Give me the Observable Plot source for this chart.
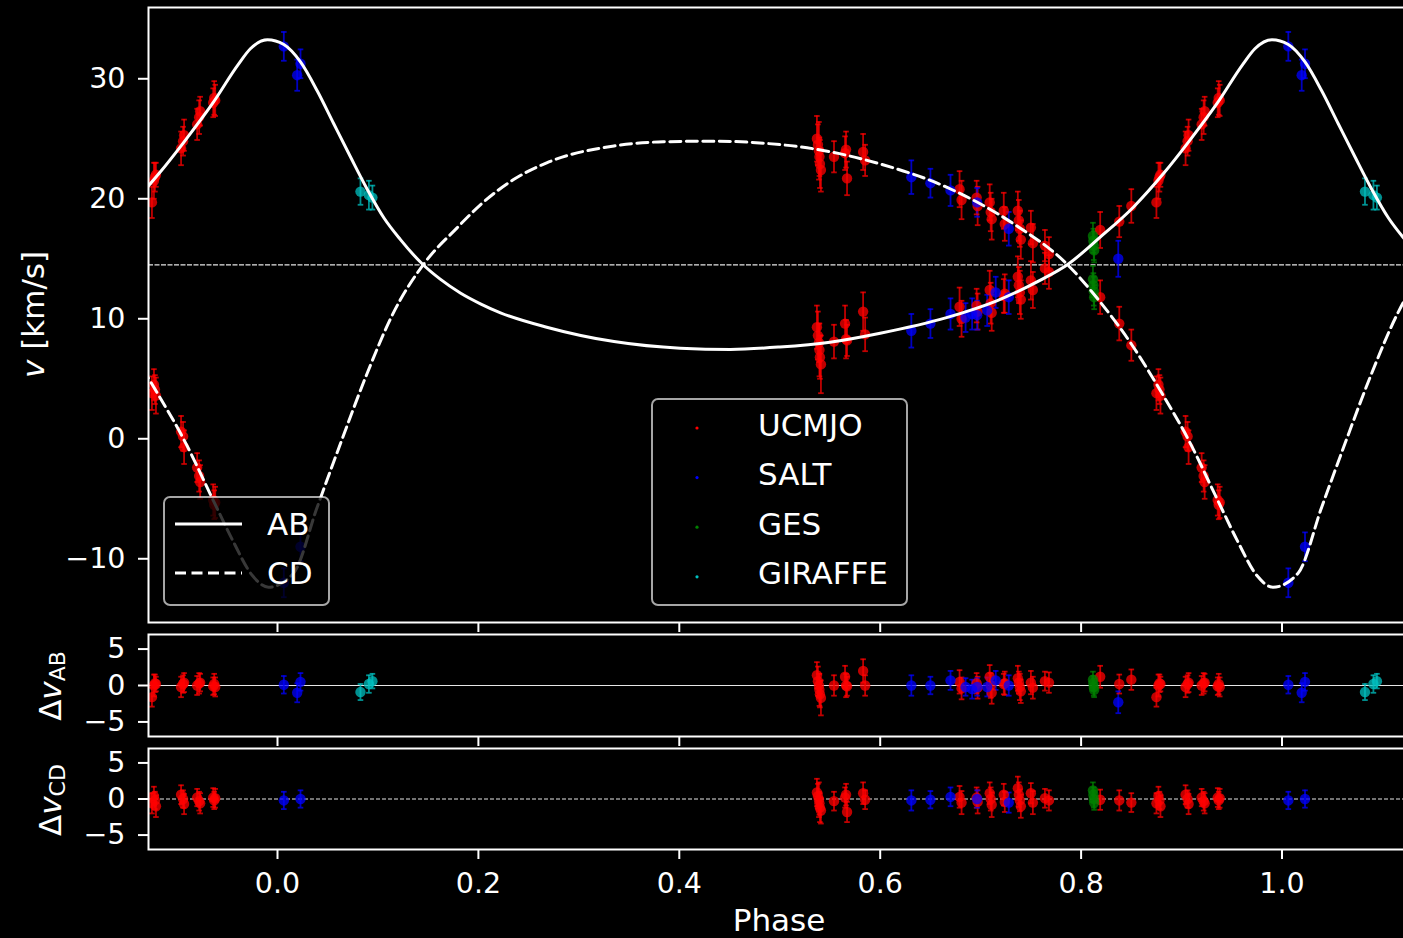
<!DOCTYPE html>
<html>
<head>
<meta charset="utf-8">
<script src="https://cdn.jsdelivr.net/npm/d3@7"></script>
<script src="https://cdn.jsdelivr.net/npm/@observablehq/plot@0.6"></script>
<style>
  html, body { margin: 0; padding: 0; background: #000; overflow: hidden; }
  #wrap { position: relative; width: 1403px; height: 938px; overflow: hidden; background: #000; }
  #wrap > svg { position: absolute; left: 0; max-width: none !important; }
</style>
</head>
<body>
<div id="wrap"></div>
<script>
// ---------------- data ----------------
const instruments = ["UCMJO", "SALT", "GES", "GIRAFFE"];
const instColors = ["#ff0000", "#0000ff", "#008000", "#00bfbf"];
const xTicks = [0, 0.2, 0.4, 0.6, 0.8, 1.0];
const vTicks = [-10, 0, 10, 20, 30];
const resTicks = [-5, 0, 5];
const systemicV = 14.5;
const curveNames = ["AB", "CD"];

// model curves (phase in [0,1))
const abCurvePhase = [0.0063, 0.0229, 0.0395, 0.056, 0.0726, 0.0893, 0.106, 0.1224, 0.145, 0.162, 0.182, 0.202, 0.222, 0.268, 0.335, 0.401, 0.451, 0.500, 0.550, 0.600, 0.666, 0.716, 0.759, 0.787, 0.819, 0.852, 0.882, 0.908, 0.935, 0.961, 0.973, 0.990];
const abCurveV     = [32.85, 31.4, 29.0, 26.25, 23.5, 20.8, 18.4, 16.6, 14.5, 13.3, 12.15, 11.25, 10.5, 9.3, 8.1, 7.55, 7.45, 7.65, 8.05, 8.8, 10.1, 11.5, 13.2, 14.55, 16.8, 19.3, 22.1, 24.85, 27.9, 31.2, 32.5, 33.25];
const cdCurvePhase = [0.016, 0.0395, 0.0627, 0.089, 0.116, 0.145, 0.179, 0.202, 0.235, 0.268, 0.335, 0.384, 0.434, 0.484, 0.534, 0.600, 0.666, 0.733, 0.786, 0.819, 0.850, 0.879, 0.907, 0.937, 0.955, 0.975, 0.991];
const cdCurveV     = [-11.2, -5.7, -0.4, 5.4, 10.6, 14.5, 17.6, 19.5, 21.6, 23.0, 24.4, 24.75, 24.8, 24.63, 24.16, 22.9, 20.97, 17.9, 14.55, 11.4, 7.9, 4.0, -0.1, -5.3, -8.4, -11.4, -12.37];

// UCMJO
const ucmjoPhase = [0.875,0.877,0.878,0.879, 0.904,0.906,0.907, 0.920,0.922,0.923, 0.936,0.937,0.938, 0.537,0.538,0.539,0.5395,0.540,0.541, 0.554, 0.565,0.566,0.567, 0.583,0.585, 0.679,0.681, 0.696,0.697, 0.709,0.710,0.711, 0.723,0.724, 0.737,0.738,0.739,0.740, 0.750,0.752, 0.764,0.768, 0.819, 0.838, 0.850];
const ucmjoAB    = [19.7,21.5,21.8,22.0, 24.2,24.8,25.3, 26.2,26.8,27.3, 28.0,28.4,28.2, 9.3,8.6,8.0,7.4,6.8,6.2, 8.1, 9.6,8.3,8.2, 10.6,8.7, 11.0,10.0, 11.1,10.6, 12.4,11.3,10.5, 11.9,12.1, 13.5,12.8,12.2,11.6, 13.2,12.4, 14.2,13.9, 17.4, 18.1, 19.4];
const ucmjoCD    = [3.8,4.5,4.1,3.6, 0.6,0.2,-0.7, -2.4,-3.1,-3.6, -5.1,-5.5,-5.3, 25.0,24.5,24.0,23.5,22.9,22.4, 23.5, 23.8,24.1,21.7, 23.9,23.2, 20.8,19.9, 20.1,19.4, 19.7,18.9,18.3, 19.0,17.9, 19.0,18.2,17.5,16.6, 17.6,16.3, 16.1,15.4, 11.8, 9.6, 7.8];
const ucmjoErrAB = [1.3,1.5,1.2,1.0, 1.4,1.2,1.3, 1.3,1.4,1.2, 1.2,1.4,1.3, 1.8,2.0,1.6,2.2,1.8,2.4, 1.4, 1.5,1.6,1.3, 1.6,1.4, 1.6,1.5, 1.4,1.5, 1.6,1.7,1.5, 1.4,1.6, 1.7,1.5,1.8,1.6, 1.6,1.5, 1.3,1.4, 1.5, 1.3, 1.4];
const ucmjoErrCD = [1.4,1.3,1.2,1.5, 1.3,1.2,1.4, 1.2,1.3,1.4, 1.3,1.2,1.3, 1.9,1.7,2.4,1.6,2.0,1.8, 1.3, 1.4,1.5,1.4, 1.5,1.3, 1.5,1.6, 1.4,1.6, 1.5,1.6,1.7, 1.5,1.4, 1.6,1.7,1.5,1.6, 1.4,1.6, 1.3,1.4, 1.4, 1.4, 1.3];
const ucmjoResAB = [-1.6,0.0,0.3,0.2, -0.2,0.2,0.4, 0.0,0.3,0.4, -0.1,0.2,-0.2, 1.4,0.6,0.0,-0.6,-1.2,-1.7, 0.0, 1.2,0.0,-0.1, 2.0,0.0, 0.5,-0.4, 0.3,-0.3, 1.2,0.0,-1.0, 0.2,0.3, 1.0,0.4,-0.2,-0.8, 0.4,-0.3, 0.6,0.4, 1.2, 0.2, 0.8];
const ucmjoResCD = [-0.6,0.4,-0.2,-1.0, 0.6,0.0,-0.7, 0.2,-0.3,-0.6, 0.2,-0.2,0.1, 0.9,0.4,-0.1,-0.6,-1.2,-1.6, -0.3, 0.2,0.6,-1.8, 0.8,-0.1, 0.3,-0.5, 0.2,-0.4, 0.8,0.0,-0.8, 0.6,-0.4, 1.5,0.6,-0.2,-1.0, 0.8,-0.5, 0.1,-0.2, -0.1, -0.2, -0.5];

// SALT
const saltPhase = [0.0063, 0.0196, 0.0229, 0.631, 0.650, 0.670, 0.685, 0.6915, 0.6965, 0.7065, 0.715, 0.728, 0.837];
const saltAB    = [32.7, 30.3, 31.25, 9.0, 9.6, 10.4, 10.1, 10.4, 10.3, 10.7, 12.2, 11.8, 15.0];
const saltCD    = [-12.0, null, -9.0, 21.8, 21.3, 20.7, null, null, 19.7, null, null, 17.5, null];
const saltErr   = [1.2, 1.3, 1.2, 1.4, 1.2, 1.3, 1.2, 1.3, 1.2, 1.3, 1.3, 1.4, 1.5];
const saltResAB = [0.1, -1.0, 0.5, 0.0, 0.0, 0.7, -0.2, -0.5, -0.2, -0.2, 0.7, 0.0, -2.3];
const saltResCD = [-0.2, null, 0.0, -0.2, -0.1, 0.3, null, null, 0.0, null, null, -0.5, null];

// GES
const gesPhase = [0.8118, 0.8122, 0.8126, 0.8130];
const gesAB    = [16.9, 16.5, 16.1, 15.7];
const gesCD    = [13.3, 12.8, 12.3, 11.8];
const gesErr   = [1.1, 1.0, 1.2, 1.0];
const gesResAB = [0.8, 0.3, -0.2, -0.6];
const gesResCD = [1.2, 0.6, 0.0, -0.5];

// GIRAFFE
const giraffePhase = [0.0826, 0.0910, 0.0945];
const giraffeAB    = [20.6, 20.3, 20.1];
const giraffeErr   = [1.1, 1.2, 1.0];
const giraffeResAB = [-0.9, 0.2, 0.6];

// ---------------- layout ----------------
const X0 = -0.12842, X1 = 1.12792;
const W = 1420, ML = 148, MR = 10;
const FONT = "DejaVu Sans";
const style = {background: "transparent", color: "white", fontFamily: FONT, fontSize: "28.5px", overflow: "visible", maxWidth: "none"};

function wrapCurve(ph, v) {
  const out = [];
  for (const k of [-1, 0, 1]) ph.forEach((p, i) => {
    const x = p + k;
    if (x > X0 - 0.12 && x < X1 + 0.12) out.push({x, v: v[i]});
  });
  return out.sort((a, b) => a.x - b.x);
}
const abCurve = wrapCurve(abCurvePhase, abCurveV);
const cdCurve = wrapCurve(cdCurvePhase, cdCurveV);

const obs = [];
function addInst(inst, ph, ab, cd, eAB, eCD, rAB, rCD) {
  ph.forEach((p, i) => {
    for (const k of [-1, 0, 1]) {
      const x = p + k;
      if (x < X0 || x > X1) continue;
      obs.push({inst, x, ab: ab[i], cd: cd ? cd[i] : null, eab: eAB[i], ecd: eCD ? eCD[i] : null,
                rab: rAB[i], rcd: rCD ? rCD[i] : null});
    }
  });
}
addInst("UCMJO", ucmjoPhase, ucmjoAB, ucmjoCD, ucmjoErrAB, ucmjoErrCD, ucmjoResAB, ucmjoResCD);
addInst("SALT", saltPhase, saltAB, saltCD, saltErr, saltErr, saltResAB, saltResCD);
addInst("GES", gesPhase, gesAB, gesCD, gesErr, gesErr, gesResAB, gesResCD);
addInst("GIRAFFE", giraffePhase, giraffeAB, null, giraffeErr, null, giraffeResAB, null);

const capSymbol = {draw(ctx, size) { const r = Math.sqrt(size / Math.PI); ctx.moveTo(-r, 0); ctx.lineTo(r, 0); }};
function pointMarks(key, errKey) {
  const d = obs.filter(o => o[key] != null);
  const lo = o => o[key] - o[errKey], hi = o => o[key] + o[errKey];
  const barOpt = {x: "x", stroke: "inst", strokeWidth: 1.8, strokeOpacity: 0.75, clip: true};
  return [
    Plot.ruleX(d, {...barOpt, y1: lo, y2: hi}),
    Plot.dot(d, {...barOpt, y: lo, symbol: capSymbol, r: 2.8, fill: "none"}),
    Plot.dot(d, {...barOpt, y: hi, symbol: capSymbol, r: 2.8, fill: "none"}),
    Plot.dot(d, {x: "x", y: key, r: 5.2, fill: "inst", fillOpacity: 0.75, stroke: "none", clip: true})
  ];
}
const colorScale = {domain: instruments, range: instColors};
const yAxis = ticks => Plot.axisY({ticks, tickSize: 10, tickPadding: 13, tickFormat: d3.format("d"), label: null, strokeWidth: 2});
const xAxisNoLabel = () => Plot.axisX({ticks: xTicks, tickSize: 10, tickFormat: () => "", label: null, strokeWidth: 2});
const frame = () => Plot.frame({stroke: "white", strokeWidth: 2});

const wrap = document.getElementById("wrap");

// top panel: radial velocities
const topPlot = Plot.plot({
  width: W, height: 633, marginLeft: ML, marginRight: MR, marginTop: 7, marginBottom: 11,
  x: {domain: [X0, X1]}, y: {domain: [-15.31, 35.94]}, color: colorScale, style,
  marks: [
    Plot.ruleY([systemicV], {stroke: "#e6e6e6", strokeWidth: 1.2, strokeDasharray: "5,1.5"}),
    ...pointMarks("ab", "eab"),
    ...pointMarks("cd", "ecd"),
    Plot.line(abCurve, {x: "x", y: "v", stroke: "white", strokeWidth: 3, curve: "monotone-x", clip: true}),
    Plot.line(cdCurve, {x: "x", y: "v", stroke: "white", strokeWidth: 3, strokeDasharray: "11,5.5", curve: "monotone-x", clip: true}),
    yAxis(vTicks), xAxisNoLabel(), frame()
  ]
});
topPlot.style.top = "0px";
wrap.appendChild(topPlot);

// middle panel: AB residuals
const midPlot = Plot.plot({
  width: W, height: 123, marginLeft: ML, marginRight: MR, marginTop: 10, marginBottom: 11,
  x: {domain: [X0, X1]}, y: {domain: [-7, 7]}, color: colorScale, style,
  marks: [
    Plot.ruleY([0], {stroke: "#e6e6e6", strokeWidth: 1.2}),
    ...pointMarks("rab", "eab"),
    yAxis(resTicks), xAxisNoLabel(), frame()
  ]
});
midPlot.style.top = "624px";
wrap.appendChild(midPlot);

// bottom panel: CD residuals
const botPlot = Plot.plot({
  width: W, height: 200, marginLeft: ML, marginRight: MR, marginTop: 10, marginBottom: 89,
  x: {domain: [X0, X1]}, y: {domain: [-7, 7]}, color: colorScale, style,
  marks: [
    Plot.ruleY([0], {stroke: "#e6e6e6", strokeWidth: 1.2, strokeDasharray: "4,2"}),
    ...pointMarks("rcd", "ecd"),
    yAxis(resTicks),
    Plot.axisX({ticks: xTicks, tickSize: 10, tickPadding: 13, tickFormat: d3.format(".1f"), label: null, strokeWidth: 2}),
    frame()
  ]
});
botPlot.style.top = "738px";
wrap.appendChild(botPlot);

// ---------------- overlay: labels and legends ----------------
const ov = d3.create("svg").attr("width", 1403).attr("height", 938)
  .style("position", "absolute").style("top", "0px").style("left", "0px")
  .attr("font-family", FONT).attr("fill", "white");

function rotLabel(x, y, sub) {
  const t = ov.append("text").attr("transform", `translate(${x},${y}) rotate(-90)`)
    .attr("text-anchor", "middle").attr("font-size", 31);
  if (sub == null) {
    t.append("tspan").attr("font-style", "italic").text("v");
    t.append("tspan").text(" [km/s]");
  } else {
    t.append("tspan").text("Δ");
    t.append("tspan").attr("font-style", "italic").text("v");
    t.append("tspan").attr("font-size", 22).attr("dy", "0.2em").text(sub);
  }
}
rotLabel(44, 314.5, null);
rotLabel(61, 686, curveNames[0]);
rotLabel(61, 800, curveNames[1]);
ov.append("text").attr("x", 779).attr("y", 931).attr("text-anchor", "middle").attr("font-size", 31).text("Phase");

// legend 1: model curves
ov.append("rect").attr("x", 164).attr("y", 497).attr("width", 165).attr("height", 108).attr("rx", 6)
  .attr("fill", "black").attr("fill-opacity", 0.78).attr("stroke", "white").attr("stroke-opacity", 0.65).attr("stroke-width", 2);
[[524, null], [573, "11,5.5"]].forEach(([y, dash], i) => {
  const l = ov.append("line").attr("x1", 175).attr("x2", 242).attr("y1", y).attr("y2", y)
    .attr("stroke", "white").attr("stroke-width", 3);
  if (dash) l.attr("stroke-dasharray", dash);
  ov.append("text").attr("x", 267).attr("y", y + 11).attr("font-size", 31).text(curveNames[i]);
});

// legend 2: instruments
ov.append("rect").attr("x", 652).attr("y", 399).attr("width", 255).attr("height", 206).attr("rx", 6)
  .attr("fill", "black").attr("fill-opacity", 0.78).attr("stroke", "white").attr("stroke-opacity", 0.65).attr("stroke-width", 2);
instruments.forEach((name, i) => {
  const y = 428 + i * 49.6;
  ov.append("circle").attr("cx", 697).attr("cy", y).attr("r", 1.6).attr("fill", instColors[i]);
  ov.append("text").attr("x", 758).attr("y", y + 7.5).attr("font-size", 31).text(name);
});
wrap.appendChild(ov.node());
</script>
</body>
</html>
